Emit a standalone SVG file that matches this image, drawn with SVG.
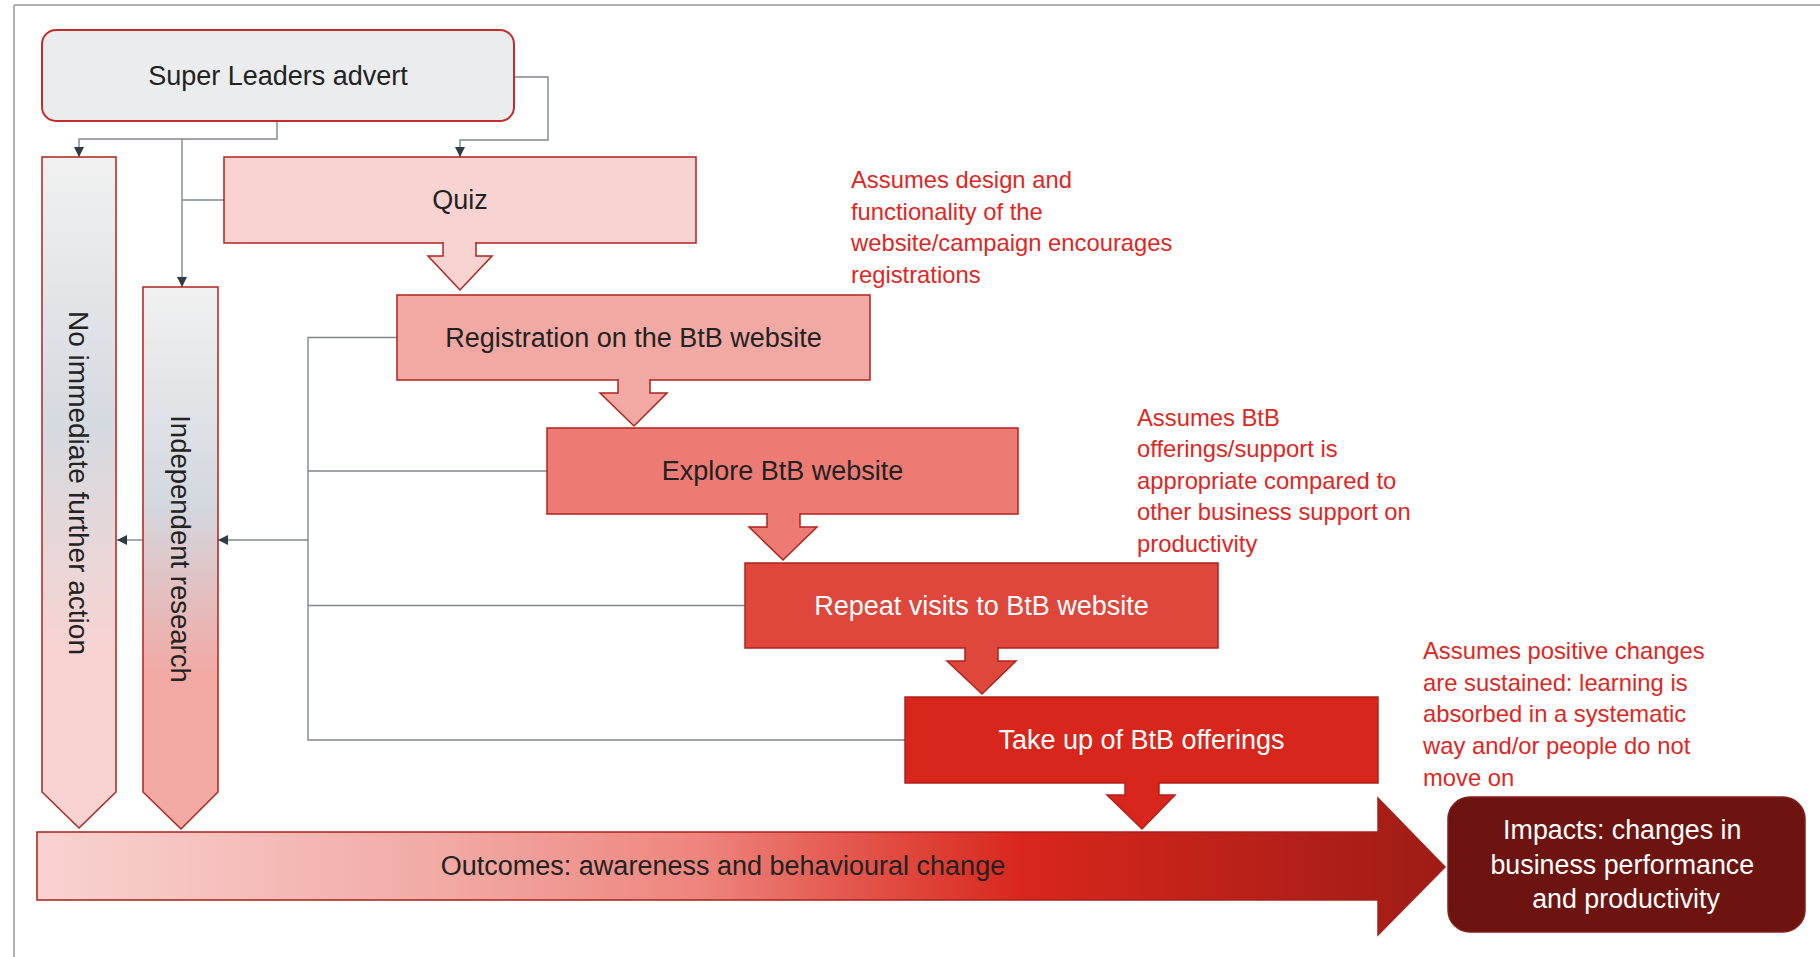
<svg xmlns="http://www.w3.org/2000/svg" width="1820" height="957" viewBox="0 0 1820 957">
<style>
text{font-family:"Liberation Sans",Arial,sans-serif}
.node{font-size:27px;fill:#222222;text-anchor:middle;dominant-baseline:central}
.light{fill:#FFFFFF}
.box{stroke:#B0231C;stroke-width:1.5}
.ann{font-size:23.8px;fill:#E0261E}
.conn{fill:none;stroke:#7F878F;stroke-width:1.4}
.frame{fill:none;stroke:#B0B0B0;stroke-width:2}
</style>
<defs>
<marker id="ah" viewBox="0 0 10 10" refX="10" refY="5" markerWidth="10" markerHeight="10" markerUnits="userSpaceOnUse" orient="auto">
<path d="M0,0 L10,5 L0,10 Z" fill="#2F3B45"/>
</marker>
<linearGradient id="gNo" x1="0" y1="0" x2="0" y2="1">
<stop offset="0" stop-color="#F1F1F1"/>
<stop offset="0.4" stop-color="#D5DAE0"/>
<stop offset="0.74" stop-color="#F8D3D1"/>
<stop offset="1" stop-color="#F8D3D1"/>
</linearGradient>
<linearGradient id="gInd" x1="0" y1="0" x2="0" y2="1">
<stop offset="0" stop-color="#F1F1F1"/>
<stop offset="0.4" stop-color="#D3D8DF"/>
<stop offset="0.72" stop-color="#F2A8A3"/>
<stop offset="1" stop-color="#F2A8A3"/>
</linearGradient>
<linearGradient id="gOut" x1="0" y1="0" x2="1" y2="0">
<stop offset="0" stop-color="#F8D3D1"/>
<stop offset="0.29" stop-color="#F2A9A4"/>
<stop offset="0.47" stop-color="#EE857E"/>
<stop offset="0.57" stop-color="#E45A50"/>
<stop offset="0.70" stop-color="#D9261C"/>
<stop offset="0.95" stop-color="#A81E17"/>
<stop offset="1" stop-color="#9E1C15"/>
</linearGradient>
</defs>

<g id="frame">
<path class="frame" d="M14,5 H1820 M14,5 V957"/>
</g>

<g id="connectors">
<path class="conn" d="M277,121 V139 H79 V157" marker-end="url(#ah)"/>
<path class="conn" d="M182,139 V287" marker-end="url(#ah)"/>
<path class="conn" d="M224,200 H182"/>
<path class="conn" d="M514,77 H548 V140 H460 V157" marker-end="url(#ah)"/>
<path class="conn" d="M397,337.5 H308 V740 H905"/>
<path class="conn" d="M547,471 H308"/>
<path class="conn" d="M745,605.5 H308"/>
<path class="conn" d="M308,540 H218" marker-end="url(#ah)"/>
<path class="conn" d="M143,540 H117" marker-end="url(#ah)"/>
</g>

<g id="super-leaders">
<rect x="42" y="30" width="472" height="91" rx="14" fill="#EBECEE" stroke="#C42B2B" stroke-width="2"/>
<text class="node" x="278" y="76">Super Leaders advert</text>
</g>

<g id="no-immediate">
<path class="box" d="M42,157 H116 V792 L79,828 L42,792 Z" fill="url(#gNo)"/>
<text transform="translate(69,483) rotate(90)" style="font-size:28px;fill:#222222;text-anchor:middle">No immediate further action</text>
</g>

<g id="independent">
<path class="box" d="M143,287 H218 V792 L181,829 L143,792 Z" fill="url(#gInd)"/>
<text transform="translate(171,549) rotate(90)" style="font-size:27.5px;fill:#222222;text-anchor:middle">Independent research</text>
</g>

<g id="quiz">
<rect class="box" x="224" y="157" width="472" height="86" fill="#F8D3D1"/>
<path class="box" d="M443,242 V256 H428 L460,290 L492,256 H476 V242" fill="#F8D3D1"/>
<text class="node" x="460" y="200">Quiz</text>
</g>

<g id="registration">
<rect class="box" x="397" y="295" width="473" height="85" fill="#F2A8A3"/>
<path class="box" d="M618,379 V393 H600 L634,426 L667,393 H650 V379" fill="#F2A8A3"/>
<text class="node" x="633.5" y="337.5">Registration on the BtB website</text>
</g>

<g id="explore">
<rect class="box" x="547" y="428" width="471" height="86" fill="#EE7A74"/>
<path class="box" d="M767,513 V527 H749 L783,560 L817,527 H800 V513" fill="#EE7A74"/>
<text class="node" x="782.5" y="471">Explore BtB website</text>
</g>

<g id="repeat">
<rect class="box" x="745" y="563" width="473" height="85" fill="#DF473D"/>
<path class="box" d="M965,647 V661 H947 L982,694 L1016,661 H998 V647" fill="#DF473D"/>
<text class="node light" x="981.5" y="605.5">Repeat visits to BtB website</text>
</g>

<g id="take-up">
<rect class="box" x="905" y="697" width="473" height="86" fill="#D9261C"/>
<path class="box" d="M1125,782 V795 H1107 L1142,829 L1175,795 H1159 V782" fill="#D9261C"/>
<text class="node light" x="1141.5" y="740">Take up of BtB offerings</text>
</g>

<g id="outcomes">
<path d="M37,832 H1378 V798 L1445,867 L1378,935 V900 H37 Z" fill="url(#gOut)" stroke="#A82019" stroke-width="1.5"/>
<text class="node" x="723" y="866">Outcomes: awareness and behavioural change</text>
</g>

<g id="impacts">
<rect x="1448" y="797" width="357" height="135" rx="22" fill="#6E1410" stroke="#84201A" stroke-width="1.5"/>
<text style="font-size:26.8px;fill:#FFFFFF;text-anchor:middle">
<tspan x="1626" y="839">Impacts: changes in</tspan>
<tspan x="1626" y="874">business performance</tspan>
<tspan x="1626" y="908">and productivity</tspan>
</text>
</g>

<g id="assumption-1">
<text class="ann">
<tspan x="851" y="188">Assumes design and</tspan>
<tspan x="851" y="220">functionality of the</tspan>
<tspan x="851" y="251">website/campaign encourages</tspan>
<tspan x="851" y="283">registrations</tspan>
</text>
</g>

<g id="assumption-2">
<text class="ann">
<tspan x="1137" y="426">Assumes BtB</tspan>
<tspan x="1137" y="457">offerings/support is</tspan>
<tspan x="1137" y="489">appropriate compared to</tspan>
<tspan x="1137" y="520">other business support on</tspan>
<tspan x="1137" y="552">productivity</tspan>
</text>
</g>

<g id="assumption-3">
<text class="ann">
<tspan x="1423" y="659">Assumes positive changes</tspan>
<tspan x="1423" y="691">are sustained: learning is</tspan>
<tspan x="1423" y="722">absorbed in a systematic</tspan>
<tspan x="1423" y="754">way and/or people do not</tspan>
<tspan x="1423" y="786">move on</tspan>
</text>
</g>
</svg>
